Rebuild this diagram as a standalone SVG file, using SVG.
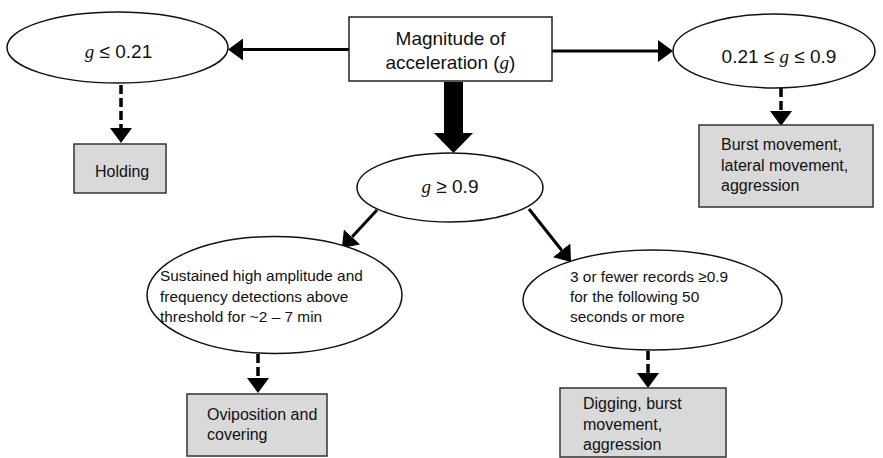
<svg xmlns="http://www.w3.org/2000/svg" width="883" height="458" viewBox="0 0 883 458">
<defs>
<style>
.bg{fill:#ffffff}
.ell{fill:#ffffff;stroke:#111;stroke-width:1.5}
.box{fill:#ffffff;stroke:#222;stroke-width:1.5}
.gbox{fill:#d9d9d9;stroke:#333;stroke-width:1.5}
.t{font-family:"Liberation Sans",Arial,sans-serif;fill:#111}
.big{font-size:19px}
.mid{font-size:16px}
.sm{font-size:15.4px}
.g{font-family:"Liberation Serif","Times New Roman",serif;font-style:italic}
.solid{stroke:#000;stroke-width:3;fill:none}
.dash{stroke:#000;stroke-width:3.5;fill:none;stroke-dasharray:9 4}
</style>
<marker id="ah" viewBox="0 0 15 22" refX="0" refY="11" markerWidth="15" markerHeight="22" orient="auto" markerUnits="userSpaceOnUse">
<path d="M0,0 L15,11 L0,22 Z" fill="#000"/>
</marker>
</defs>
<rect class="bg" x="0" y="0" width="883" height="458"/>

<g id="connectors">
<line class="solid" x1="349" y1="49.5" x2="243" y2="49.5" marker-end="url(#ah)"/>
<line class="solid" x1="552" y1="51" x2="658" y2="51" marker-end="url(#ah)"/>
<polygon points="444,82 463,82 463,133 473,133 453.5,153 434,133 444,133" fill="#000"/>
<line class="solid" x1="377" y1="210" x2="352" y2="237" marker-end="url(#ah)"/>
<line class="solid" x1="529" y1="209" x2="561.7" y2="250.3" marker-end="url(#ah)"/>
<line class="dash" x1="121" y1="85" x2="121" y2="128" marker-end="url(#ah)"/>
<line class="dash" x1="781" y1="88" x2="781" y2="111" marker-end="url(#ah)"/>
<line class="dash" x1="258" y1="354" x2="258" y2="378" marker-end="url(#ah)"/>
<line class="dash" x1="648" y1="351" x2="648" y2="373" marker-end="url(#ah)"/>
</g>

<g id="root">
<rect class="box" x="349" y="17" width="203" height="64"/>
<text class="t big" x="450.5" y="45" text-anchor="middle">Magnitude of</text>
<text class="t big" x="450.5" y="69" text-anchor="middle">acceleration (<tspan class="g">g</tspan>)</text>
</g>

<g id="low">
<ellipse class="ell" cx="117.5" cy="47.5" rx="110.5" ry="35.5"/>
<text class="t big" x="118.5" y="58" text-anchor="middle"><tspan class="g">g</tspan> ≤ 0.21</text>
</g>

<g id="mid">
<ellipse class="ell" cx="774" cy="51" rx="101" ry="37"/>
<text class="t big" x="779" y="63" text-anchor="middle">0.21 ≤ <tspan class="g">g</tspan> ≤ 0.9</text>
</g>

<g id="high">
<ellipse class="ell" cx="450" cy="187.5" rx="93" ry="34.5"/>
<text class="t big" x="450" y="193" text-anchor="middle"><tspan class="g">g</tspan> ≥ 0.9</text>
</g>

<g id="sustained">
<ellipse class="ell" cx="274.5" cy="295" rx="127.5" ry="58.5"/>
<text class="t sm" x="160" y="281">Sustained high amplitude and</text>
<text class="t sm" x="160" y="301.5">frequency detections above</text>
<text class="t sm" x="160" y="322">threshold for ~2 – 7 min</text>
</g>

<g id="fewer">
<ellipse class="ell" cx="652.5" cy="300" rx="129.5" ry="50"/>
<text class="t sm" x="570" y="281.5">3 or fewer records ≥0.9</text>
<text class="t sm" x="570" y="302">for the following 50</text>
<text class="t sm" x="570" y="322">seconds or more</text>
</g>

<g id="holding">
<rect class="gbox" x="74" y="144" width="92" height="49"/>
<text class="t mid" x="95" y="177">Holding</text>
</g>

<g id="burst">
<rect class="gbox" x="699" y="125" width="174" height="82"/>
<text class="t mid" x="721" y="150">Burst movement,</text>
<text class="t mid" x="721" y="170.5">lateral movement,</text>
<text class="t mid" x="721" y="191">aggression</text>
</g>

<g id="oviposition">
<rect class="gbox" x="187" y="394" width="140" height="62"/>
<text class="t mid" x="207" y="420">Oviposition and</text>
<text class="t mid" x="207" y="440">covering</text>
</g>

<g id="digging">
<rect class="gbox" x="560" y="388" width="166" height="69"/>
<text class="t mid" x="583" y="409">Digging, burst</text>
<text class="t mid" x="583" y="430">movement,</text>
<text class="t mid" x="583" y="450">aggression</text>
</g>
</svg>
